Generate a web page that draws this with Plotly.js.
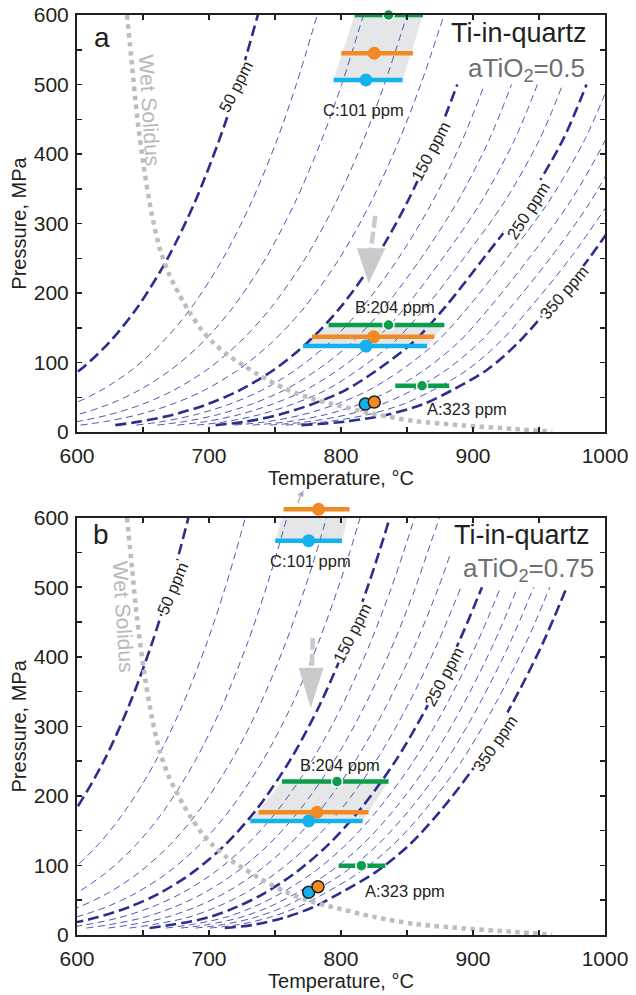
<!DOCTYPE html>
<html><head><meta charset="utf-8">
<script src="https://cdn.plot.ly/plotly-3.0.1.min.js"></script>
<style>html,body{margin:0;padding:0;background:#fff}#chart{width:636px;height:995px}</style>
</head><body><div id="chart"></div>
<script>
// ---------------- data ----------------
const ISO_PPM = [50,70,90,110,130,150,170,190,210,230,250,270,290,310,330,350];
const THICK_PPM = [50,150,250,350];

// Panel a (aTiO2 = 0.5): temperature (°C) of each Ti isopleth at pressures P_A (MPa)
const P_A = [10,15,25,40,60,90,130,180,250,330,420,500,600];
const a50  = [null,null,null,559.1,580.0,602.7,624.9,646.0,668.7,689.1,707.7,721.8,737.0];
const a70  = [533.9,550.4,573.3,596.4,618.2,641.9,665.1,687.0,710.7,732.0,751.5,766.1,782.0];
const a90  = [559.4,576.5,600.2,624.3,646.9,671.5,695.6,718.4,743.0,765.1,785.3,800.5,817.0];
const a110 = [582.1,599.9,624.6,649.6,673.1,698.7,723.7,747.4,773.0,796.0,817.0,832.8,850.0];
const a130 = [602.7,621.1,646.4,672.1,696.3,722.5,748.2,772.6,798.9,822.5,844.1,860.4,878.0];
const a150 = [629.0,647.4,672.9,698.8,723.1,749.5,775.3,799.8,826.3,850.0,871.7,888.1,null];
const a170 = [645.0,664.3,689.7,715.4,739.9,766.0,792.0,816.4,843.5,868.9,891.9,908.7,null];
const a190 = [660.9,681.3,706.5,732.1,756.7,782.5,808.8,833.1,860.6,887.8,912.1,929.2,null];
const a210 = [676.1,697.4,722.6,747.9,772.6,798.2,824.7,848.9,877.0,905.8,931.4,948.8,null];
const a230 = [690.9,713.1,738.2,763.3,788.2,813.5,840.3,864.3,892.9,923.4,950.2,967.9,null];
const a250 = [705.0,728.0,753.0,778.0,803.0,828.0,855.0,879.0,908.0,940.0,968.0,986.0,null];
const a270 = [719.3,744.5,771.0,796.5,820.8,846.3,872.6,896.4,925.6,956.9,984.5,1002.9,null];
const a290 = [733.0,760.3,788.3,814.1,837.8,863.7,889.4,913.0,942.4,973.1,1000.3,1019.1,null];
const a310 = [746.0,775.3,804.7,830.9,854.0,880.3,905.4,928.8,958.4,988.5,1015.3,null,null];
const a330 = [758.3,789.5,820.2,846.9,869.4,896.1,920.6,943.8,973.6,1003.1,null,null,null];
const a350 = [770.0,803.0,835.0,862.0,884.0,911.0,935.0,958.0,988.0,1017.0,null,null,null];
const ISO_A = [a50,a70,a90,a110,a130,a150,a170,a190,a210,a230,a250,a270,a290,a310,a330,a350];

// Panel b (aTiO2 = 0.75)
const P_B = [10,15,25,40,60,90,130,180,250,330,420,500,550,600];
const b50  = [null,null,null,null,null,null,579.2,598.9,620.3,639.4,656.9,670.1,677.5,684.4];
const b70  = [null,null,null,550.7,571.4,594.0,616.1,637.0,659.6,679.8,698.4,712.4,720.2,727.5];
const b90  = [null,null,555.3,577.9,599.2,622.3,644.9,666.3,689.4,710.2,729.2,743.5,751.5,759.0];
const b110 = [null,554.5,577.7,601.1,623.2,647.1,670.6,692.8,716.8,738.4,758.1,772.9,781.3,789.0];
const b130 = [556.9,574.0,597.7,621.8,644.4,669.0,693.1,715.9,740.5,762.6,782.8,798.0,806.6,814.5];
const b150 = [572.6,590.2,614.5,639.2,662.5,687.7,712.4,735.8,761.0,783.7,804.4,820.1,828.8,837.0];
const b170 = [589.9,607.6,632.2,656.3,679.2,704.1,728.8,752.3,777.8,800.9,822.2,838.3,847.3,855.8];
const b190 = [607.2,625.0,650.0,673.4,695.8,720.5,745.2,768.8,794.7,818.1,839.9,856.5,865.5,874.6];
const b210 = [623.7,641.5,666.9,689.7,711.7,736.2,760.8,784.5,810.7,834.5,856.9,873.9,883.2,null];
const b230 = [639.8,657.7,683.4,705.5,727.2,751.4,776.0,799.8,826.4,850.5,873.3,890.8,null,null];
const b250 = [655.0,673.0,699.0,720.6,741.9,765.9,790.4,814.3,841.2,865.7,889.0,906.8,null,null];
const b270 = [667.5,686.6,711.8,733.4,754.5,779.1,803.9,827.9,855.0,879.6,903.1,920.9,null,null];
const b290 = [678.9,699.0,723.4,745.1,765.9,791.1,816.3,840.2,867.6,892.3,915.9,933.8,null,null];
const b310 = [689.8,710.8,734.4,756.2,776.7,802.6,828.0,851.9,879.5,904.3,928.0,946.0,null,null];
const b330 = [700.6,722.6,745.4,767.3,787.6,814.0,839.7,863.7,891.4,916.3,940.2,958.2,null,null];
const b350 = [712.0,735.0,757.0,779.0,799.0,826.0,852.0,876.0,904.0,929.0,953.0,971.0,null,null];
const ISO_B = [b50,b70,b90,b110,b130,b150,b170,b190,b210,b230,b250,b270,b290,b310,b330,b350];

// Wet solidus (same in both panels)
const WS_T = [637.9,641.7,645.5,650.5,656.5,663,670,678,686,694,703,714,726,737,758,778,792,825,855,893,931,960];
const WS_P = [600,527,455,383,315,262,226,196,170,148,129,111,96,83,62,48,41,26,16,9.5,4.5,0.5];

// Samples, order [A, B, C]; T in °C, P in MPa, error = T minus / plus
const SAMPLES = ['A:323 ppm','B:204 ppm','C:101 ppm'];
// panel a
const aGreenT = [861.4,836.0,836.0], aGreenP = [66.6,154.0,600.0], aGreenLo = [20.3,45.4,25.7], aGreenHi = [20.6,42.3,26.1];
const aOrangeT = [825.2,824.7,825.2], aOrangeP = [43.2,137.0,545.0], aOrangeLo = [0,46.7,25.0], aOrangeHi = [0,46.0,29.3];
const aBlueT = [818.4,818.9,818.9], aBlueP = [40.3,123.7,506.5], aBlueLo = [0,47.7,24.5], aBlueHi = [0,46.3,27.8];
// panel b (green C off scale; orange C just above the frame)
const bGreenT = [815.4,797.0], bGreenP = [99.7,220.6], bGreenLo = [17.2,41.7], bGreenHi = [18.2,39.0];
const bOrangeT = [782.6,781.8,783.0], bOrangeP = [69.5,176.5,612.0], bOrangeLo = [0,44.2,26.5], bOrangeHi = [0,39.1,23.5];
const bBlueT = [775.5,775.5,775.5], bBlueP = [61.4,164.0,567.0], bBlueLo = [0,44.2,25.3], bBlueHi = [0,40.9,25.3];

// Cooling arrows (shaft then head triangle)
const arrA_shaftT = [826.0,822.6], arrA_shaftP = [311,262];
const arrA_headT = [812.1,833.6,820.9], arrA_headP = [264.3,264.3,213.9];
const arrB_shaftT = [778.6,777.9], arrB_shaftP = [427.3,384.2];
const arrB_headT = [767.9,786.8,777.1], arrB_headP = [384.2,384.2,326.2];
// small arrow above panel b (towards off-scale green C)
const upArr_shaftT = [767.4,769.2], upArr_shaftP = [621.2,631.4];
const upArr_headT = [771.4,767.0,771.6], upArr_headP = [629.9,632.8,639.6];

// Axis tick labels
const X_TICKS = [600,700,800,900,1000];
const X_TEXT = ['600','700','800','900','1000'];
const Y_TICKS = [0,100,200,300,400,500,600];
const Y_TEXT = ['0','100','200','300','400','500','600'];

// ---------------- style ----------------
const FONT = 'Liberation Sans, Arial, Helvetica, sans-serif';
const INK = '#231f20';
const THICK = '#2b2e8c', THIN = '#3e42aa';
const GREEN = '#0a9e4a', ORANGE = '#f28a24', BLUE = '#14b2ec';
const SHADE = '#e5e6e8', ARROW = '#c9cacb', SOLIDUS = '#bcbdbf';

const traces = [];

function shade(xa, ya, loT, loP, loM, loH, hiT, hiP, hiM, hiH) {
  traces.push({type:'scatter', mode:'lines', xaxis:xa, yaxis:ya,
    x:[loT-loM, loT+loH, hiT+hiH, hiT-hiM, loT-loM], y:[loP, loP, hiP, hiP, loP],
    fill:'toself', fillcolor:SHADE, line:{width:0, color:SHADE}, hoverinfo:'skip', showlegend:false});
}
for (const i of [1,2]) shade('x','y', aBlueT[i],aBlueP[i],aBlueLo[i],aBlueHi[i], aGreenT[i],aGreenP[i],aGreenLo[i],aGreenHi[i]);
shade('x2','y2', bBlueT[1],bBlueP[1],bBlueLo[1],bBlueHi[1], bGreenT[1],bGreenP[1],bGreenLo[1],bGreenHi[1]);
shade('x2','y2', bBlueT[2],bBlueP[2],bBlueLo[2],bBlueHi[2], bOrangeT[2],bOrangeP[2],bOrangeLo[2],bOrangeHi[2]);

function isolines(P, arrs, xa, ya) {
  for (const pass of [false, true]) {
    ISO_PPM.forEach((ppm, i) => {
      const thick = THICK_PPM.includes(ppm);
      if (thick !== pass) return;
      traces.push({type:'scatter', mode:'lines', xaxis:xa, yaxis:ya, x:arrs[i], y:P,
        line: thick ? {color:THICK, width:2.6, dash:'11px,5px', shape:'spline', smoothing:0.9}
                    : {color:THIN, width:0.9, dash:'7px,4.5px', shape:'spline', smoothing:0.9},
        hoverinfo:'skip', showlegend:false});
    });
  }
}
isolines(P_A, ISO_A, 'x', 'y');
isolines(P_B, ISO_B, 'x2', 'y2');

for (const [xa, ya] of [['x','y'],['x2','y2']]) {
  traces.push({type:'scatter', mode:'lines', xaxis:xa, yaxis:ya, x:WS_T, y:WS_P,
    line:{color:SOLIDUS, width:4.5, dash:'4.5px,4.5px', shape:'spline', smoothing:0.8},
    hoverinfo:'skip', showlegend:false});
}

function arrow(xa, ya, sT, sP, hT, hP, color, w, dash) {
  traces.push({type:'scatter', mode:'lines', xaxis:xa, yaxis:ya, x:sT, y:sP,
    line:{color:color, width:w, dash:dash}, hoverinfo:'skip', showlegend:false});
  traces.push({type:'scatter', mode:'lines', xaxis:xa, yaxis:ya, x:hT.concat([hT[0]]), y:hP.concat([hP[0]]),
    fill:'toself', fillcolor:color, line:{width:0, color:color}, hoverinfo:'skip', showlegend:false});
}
arrow('x','y', arrA_shaftT, arrA_shaftP, arrA_headT, arrA_headP, ARROW, 4.5, '12px,4px');
arrow('x2','y2', arrB_shaftT, arrB_shaftP, arrB_headT, arrB_headP, ARROW, 4.5, '12px,4px');
arrow('x2','y3', upArr_shaftT, upArr_shaftP, upArr_headT, upArr_headP, '#a7a9ac', 1.3, 'solid');

function pts(xa, ya, T, P, lo, hi, color, size, lineColor, lineWidth, bars) {
  const tr = {type:'scatter', mode:'markers', xaxis:xa, yaxis:ya, x:T, y:P, cliponaxis:false,
    marker:{color:color, size:size, line:{color:lineColor, width:lineWidth}},
    hoverinfo:'skip', showlegend:false};
  if (bars) tr.error_x = {type:'data', symmetric:false, array:hi, arrayminus:lo, color:color, thickness:4.5, width:0};
  traces.push(tr);
}
// panel a
pts('x','y', aGreenT, aGreenP, aGreenLo, aGreenHi, GREEN, 11, 'white', 1.5, true);
pts('x','y', aOrangeT.slice(1), aOrangeP.slice(1), aOrangeLo.slice(1), aOrangeHi.slice(1), ORANGE, 13, ORANGE, 0, true);
pts('x','y', aBlueT.slice(1), aBlueP.slice(1), aBlueLo.slice(1), aBlueHi.slice(1), BLUE, 13, BLUE, 0, true);
pts('x','y', aBlueT.slice(0,1), aBlueP.slice(0,1), null, null, BLUE, 12, INK, 1.5, false);
pts('x','y', aOrangeT.slice(0,1), aOrangeP.slice(0,1), null, null, ORANGE, 12, INK, 1.5, false);
// panel b (orange C lies above the frame: drawn on an invisible taller axis with the same scale)
pts('x2','y2', bGreenT, bGreenP, bGreenLo, bGreenHi, GREEN, 11, 'white', 1.5, true);
pts('x2','y2', bOrangeT.slice(1,2), bOrangeP.slice(1,2), bOrangeLo.slice(1,2), bOrangeHi.slice(1,2), ORANGE, 13, ORANGE, 0, true);
pts('x2','y3', bOrangeT.slice(2), bOrangeP.slice(2), bOrangeLo.slice(2), bOrangeHi.slice(2), ORANGE, 13, ORANGE, 0, true);
pts('x2','y2', bBlueT.slice(1), bBlueP.slice(1), bBlueLo.slice(1), bBlueHi.slice(1), BLUE, 13, BLUE, 0, true);
pts('x2','y2', bBlueT.slice(0,1), bBlueP.slice(0,1), null, null, BLUE, 12, INK, 1.5, false);
pts('x2','y2', bOrangeT.slice(0,1), bOrangeP.slice(0,1), null, null, ORANGE, 12, INK, 1.5, false);

// ---------------- layout ----------------
const MINOR = {dtick:50, ticks:'inside', ticklen:5, tickwidth:1.5, tickcolor:INK, showgrid:false};
function xax(anchor, title) {
  return {anchor:anchor, domain:[0,1], range:[600,1000], showgrid:false, zeroline:false,
    showline:true, linewidth:2, linecolor:INK, mirror:'ticks', ticks:'inside', ticklen:5, tickwidth:1.5, tickcolor:INK,
    tickmode:'array', tickvals:X_TICKS, ticktext:X_TEXT, minor:MINOR,
    tickfont:{family:FONT, size:21, color:INK}, ticklabelstandoff:4,
    title:{text:title, font:{family:FONT, size:20, color:INK}, standoff:1}};
}
function yax(anchor, domain) {
  return {anchor:anchor, domain:domain, range:[0,600], showgrid:false, zeroline:false,
    showline:true, linewidth:2, linecolor:INK, mirror:'ticks', ticks:'inside', ticklen:5, tickwidth:1.5, tickcolor:INK,
    tickmode:'array', tickvals:Y_TICKS, ticktext:Y_TEXT, minor:MINOR,
    tickfont:{family:FONT, size:21, color:INK}, ticklabelstandoff:2,
    title:{text:'Pressure, MPa', font:{family:FONT, size:20, color:INK}, standoff:2}};
}

function txt(xa, ya, x, y, text, opts) {
  return Object.assign({xref:xa, yref:ya, x:x, y:y, text:text, showarrow:false,
    font:{family:FONT, size:16.5, color:INK}}, opts || {});
}
const ann = [];
function ppmLabel(xa, ya, x, y, text, ang) {
  ann.push(txt(xa, ya, x, y, text, {textangle:ang, bgcolor:'white', borderpad:0, font:{family:FONT, size:16.5, color:INK}}));
}
const SOLIDUS_TXT = {textangle:86.5, font:{family:FONT, size:21, color:'#b7b8ba'}};
// panel a
ann.push(txt('x','y', 619, 568, 'a', {font:{family:FONT, size:28, color:INK}}));
ann.push(txt('x','y', 988, 574, 'Ti-in-quartz', {xanchor:'right', font:{family:FONT, size:27, color:INK}}));
ann.push(txt('x','y', 986, 521, 'aTiO<sub>2</sub>=0.5', {xanchor:'right', font:{family:FONT, size:26, color:'#6d6e71'}}));
ann.push(txt('x','y', 816.9, 463, SAMPLES[2]));
ann.push(txt('x','y', 841.1, 179.4, SAMPLES[1]));
ann.push(txt('x','y', 895.5, 33.1, SAMPLES[0]));
ann.push(txt('x','y', 654.8, 462, 'Wet Solidus', SOLIDUS_TXT));
ppmLabel('x','y', 719.9, 496.8, '50 ppm', -63);
ppmLabel('x','y', 867.7, 404.7, '150 ppm', -62);
ppmLabel('x','y', 941.4, 318.4, '250 ppm', -57);
ppmLabel('x','y', 969.2, 201.0, '350 ppm', -49);
// panel b
ann.push(txt('x2','y2', 618, 576, 'b', {font:{family:FONT, size:28, color:INK}}));
ann.push(txt('x2','y2', 990, 574.5, 'Ti-in-quartz', {xanchor:'right', font:{family:FONT, size:27, color:INK}}));
ann.push(txt('x2','y2', 993, 525, 'aTiO<sub>2</sub>=0.75', {xanchor:'right', font:{family:FONT, size:26, color:'#6d6e71'}}));
ann.push(txt('x2','y2', 776.7, 537.1, SAMPLES[2]));
ann.push(txt('x2','y2', 799.5, 244.6, SAMPLES[1]));
ann.push(txt('x2','y2', 848.3, 63.3, SAMPLES[0]));
ann.push(txt('x2','y2', 635.3, 458, 'Wet Solidus', SOLIDUS_TXT));
ppmLabel('x2','y2', 672.0, 497.8, '50 ppm', -67);
ppmLabel('x2','y2', 808.3, 434.1, '150 ppm', -63);
ppmLabel('x2','y2', 877.7, 370.8, '250 ppm', -62);
ppmLabel('x2','y2', 916.9, 275.8, '350 ppm', -55);

const B_DOM = [0, 0.4536];
const B_TALL = 0.49; // invisible axis with identical MPa-per-pixel scale, reaching above panel b
const layout = {
  width:636, height:995, margin:{l:77, r:31, t:15, b:60},
  paper_bgcolor:'white', plot_bgcolor:'rgba(0,0,0,0)', showlegend:false,
  font:{family:FONT, color:INK},
  xaxis: xax('y', 'Temperature, °C'),
  yaxis: yax('x', [0.5467, 1]),
  xaxis2: xax('y2', 'Temperature, °C'),
  yaxis2: yax('x2', B_DOM),
  yaxis3: {anchor:'x2', domain:[0, B_TALL], range:[0, 600*B_TALL/B_DOM[1]], visible:false, showgrid:false, zeroline:false},
  annotations: ann
};
Plotly.newPlot('chart', traces, layout, {staticPlot:true});
</script>
</body></html>
